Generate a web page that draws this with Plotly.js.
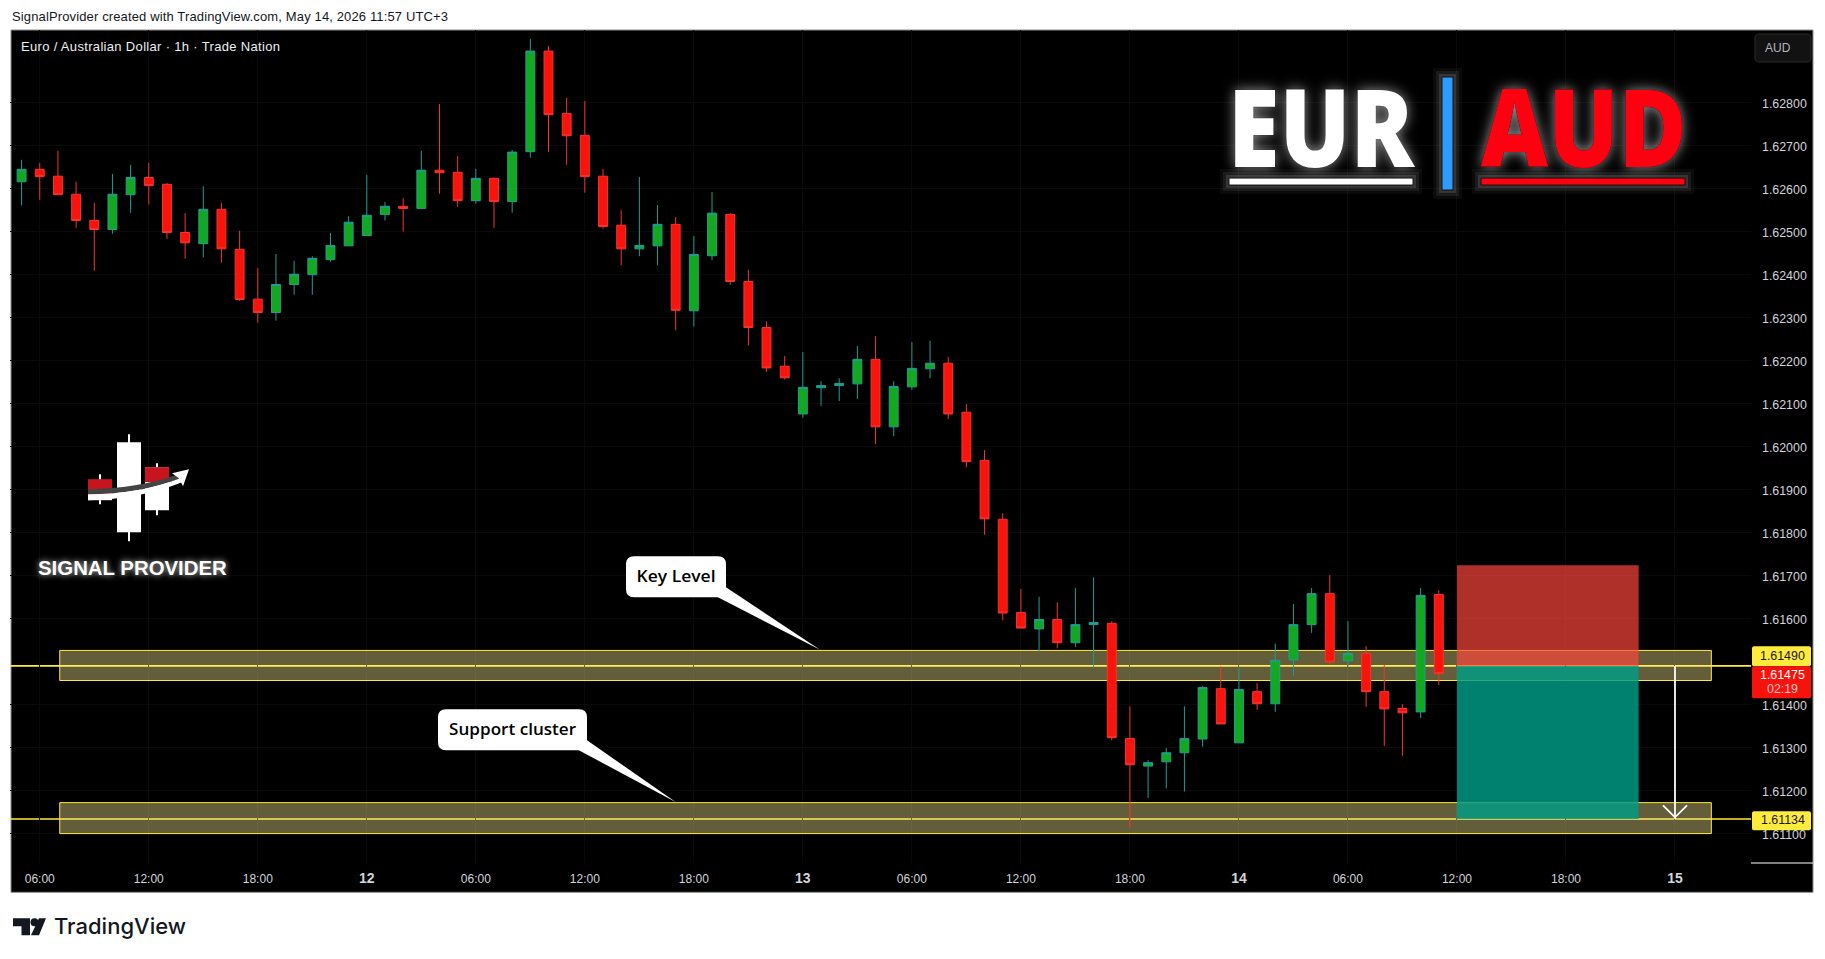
<!DOCTYPE html>
<html>
<head>
<meta charset="utf-8">
<script src="https://cdn.plot.ly/plotly-3.0.1.min.js"></script>
<style>html,body{margin:0;padding:0;background:#fff;}</style>
</head>
<body>
<div id="plot" style="width:1825px;height:959px;"></div>
<script>
// hourly bars, 11 May 05:00 to 14 May 11:00
var times = [
  "2026-05-11 05:00","2026-05-11 06:00","2026-05-11 07:00","2026-05-11 08:00","2026-05-11 09:00","2026-05-11 10:00","2026-05-11 11:00","2026-05-11 12:00","2026-05-11 13:00","2026-05-11 14:00",
  "2026-05-11 15:00","2026-05-11 16:00","2026-05-11 17:00","2026-05-11 18:00","2026-05-11 19:00","2026-05-11 20:00","2026-05-11 21:00","2026-05-11 22:00","2026-05-11 23:00",
  "2026-05-12 00:00","2026-05-12 01:00","2026-05-12 02:00","2026-05-12 03:00","2026-05-12 04:00","2026-05-12 05:00","2026-05-12 06:00","2026-05-12 07:00","2026-05-12 08:00","2026-05-12 09:00","2026-05-12 10:00","2026-05-12 11:00",
  "2026-05-12 12:00","2026-05-12 13:00","2026-05-12 14:00","2026-05-12 15:00","2026-05-12 16:00","2026-05-12 17:00","2026-05-12 18:00","2026-05-12 19:00","2026-05-12 20:00","2026-05-12 21:00","2026-05-12 22:00","2026-05-12 23:00",
  "2026-05-13 00:00","2026-05-13 01:00","2026-05-13 02:00","2026-05-13 03:00","2026-05-13 04:00","2026-05-13 05:00","2026-05-13 06:00","2026-05-13 07:00","2026-05-13 08:00","2026-05-13 09:00","2026-05-13 10:00","2026-05-13 11:00",
  "2026-05-13 12:00","2026-05-13 13:00","2026-05-13 14:00","2026-05-13 15:00","2026-05-13 16:00","2026-05-13 17:00","2026-05-13 18:00","2026-05-13 19:00","2026-05-13 20:00","2026-05-13 21:00","2026-05-13 22:00","2026-05-13 23:00",
  "2026-05-14 00:00","2026-05-14 01:00","2026-05-14 02:00","2026-05-14 03:00","2026-05-14 04:00","2026-05-14 05:00","2026-05-14 06:00","2026-05-14 07:00","2026-05-14 08:00","2026-05-14 09:00","2026-05-14 10:00","2026-05-14 11:00"
];
var open = [
  1.62616,1.62645,1.62629,1.62587,1.62526,1.62505,1.62586,1.62626,1.62610,1.62498,
  1.62472,1.62552,1.62459,1.62343,1.62312,1.62377,1.62400,1.62435,1.62467,
  1.62491,1.62540,1.62559,1.62554,1.62643,1.62638,1.62572,1.62624,1.62570,1.62686,1.62920,1.62775,
  1.62724,1.62629,1.62515,1.62460,1.62467,1.62517,1.62316,1.62444,1.62540,1.62384,1.62277,1.62187,
  1.62076,1.62137,1.62142,1.62146,1.62203,1.62046,1.62139,1.62181,1.62194,1.62080,1.61968,1.61831,
  1.61614,1.61576,1.61598,1.61544,1.61586,1.61589,1.61321,1.61257,1.61267,1.61288,1.61320,1.61437,
  1.61311,1.61430,1.61402,1.61504,1.61586,1.61658,1.61502,1.61519,1.61430,1.61391,1.61383,1.61656
];
var close = [
  1.62645,1.62628,1.62586,1.62526,1.62505,1.62587,1.62626,1.62607,1.62498,1.62474,
  1.62552,1.62460,1.62342,1.62312,1.62377,1.62401,1.62438,1.62468,1.62522,
  1.62538,1.62559,1.62554,1.62643,1.62637,1.62572,1.62624,1.62570,1.62685,1.62920,1.62772,1.62723,
  1.62628,1.62512,1.62460,1.62468,1.62517,1.62317,1.62447,1.62543,1.62384,1.62277,1.62183,1.62160,
  1.62138,1.62142,1.62147,1.62203,1.62046,1.62140,1.62182,1.62194,1.62076,1.61965,1.61832,1.61613,
  1.61578,1.61598,1.61544,1.61586,1.61591,1.61323,1.61260,1.61265,1.61288,1.61321,1.61440,1.61355,
  1.61435,1.61402,1.61503,1.61586,1.61658,1.61499,1.61519,1.61430,1.61390,1.61381,1.61654,1.61472
];
var high = [
  1.62667,1.62660,1.62688,1.62616,1.62567,1.62634,1.62655,1.62660,1.62613,1.62543,
  1.62606,1.62567,1.62502,1.62415,1.62448,1.62432,1.62443,1.62497,1.62536,
  1.62632,1.62569,1.62578,1.62688,1.62797,1.62676,1.62646,1.62626,1.62690,1.62948,1.62932,1.62811,
  1.62804,1.62646,1.62550,1.62627,1.62562,1.62534,1.62490,1.62592,1.62543,1.62411,1.62291,1.62211,
  1.62220,1.62152,1.62159,1.62234,1.62257,1.62152,1.62243,1.62246,1.62208,1.62099,1.61992,1.61845,
  1.61669,1.61651,1.61638,1.61671,1.61696,1.61594,1.61396,1.61271,1.61299,1.61396,1.61443,1.61489,
  1.61485,1.61450,1.61542,1.61634,1.61671,1.61701,1.61594,1.61536,1.61492,1.61401,1.61671,1.61666
];
var low = [
  1.62561,1.62574,1.62586,1.62509,1.62409,1.62495,1.62544,1.62563,1.62483,1.62437,
  1.62440,1.62428,1.62339,1.62288,1.62293,1.62353,1.62353,1.62430,1.62467,
  1.62491,1.62526,1.62500,1.62554,1.62588,1.62558,1.62565,1.62509,1.62544,1.62672,1.62686,1.62656,
  1.62591,1.62507,1.62422,1.62443,1.62422,1.62271,1.62279,1.62434,1.62376,1.62235,1.62174,1.62156,
  1.62067,1.62094,1.62106,1.62111,1.62006,1.62024,1.62132,1.62159,1.62064,1.61952,1.61795,1.61596,
  1.61578,1.61523,1.61531,1.61534,1.61488,1.61317,1.61113,1.61183,1.61205,1.61198,1.61302,1.61355,
  1.61311,1.61388,1.61383,1.61467,1.61567,1.61495,1.61488,1.61395,1.61304,1.61281,1.61369,1.61445
];

var priceTicks = [1.628,1.627,1.626,1.625,1.624,1.623,1.622,1.621,1.62,1.619,1.618,1.617,1.616,1.614,1.613,1.612,1.611];
var timeTicks = ["2026-05-11 06:00","2026-05-11 12:00","2026-05-11 18:00","2026-05-12 00:00","2026-05-12 06:00","2026-05-12 12:00","2026-05-12 18:00","2026-05-13 00:00","2026-05-13 06:00","2026-05-13 12:00","2026-05-13 18:00","2026-05-14 00:00","2026-05-14 06:00","2026-05-14 12:00","2026-05-14 18:00","2026-05-15 00:00"];
var dayLabel = function (d) { return '<span style="font-size:14px"><b>' + d + '</b></span>'; };
var timeLabels = ["06:00","12:00","18:00",dayLabel(12),"06:00","12:00","18:00",dayLabel(13),"06:00","12:00","18:00",dayLabel(14),"06:00","12:00","18:00",dayLabel(15)];

var keyLevel = 1.6149, supportLevel = 1.61134;
var keyZone = [1.61456, 1.61526], supportZone = [1.61100, 1.61172];
var zoneTimes = ["2026-05-11 07:06", "2026-05-15 02:00"];
var tradeTimes = ["2026-05-14 12:00", "2026-05-14 22:00"];
var stopLevel = 1.61724;
var arrowTime = "2026-05-15 00:00";

// pixel position on the page to paper coordinates, for the decorations only
var L = 10, R = 1751, T = 30, B = 862.7;
function fx(x) { return (x - L) / (R - L); }
function fy(y) { return (B - y) / (B - T); }
function pt(p) { return fx(p[0]) + "," + fy(p[1]); }
function poly(pts) { return "M" + pts.map(pt).join(" L") + " Z"; }
function roundRect(x0, y0, x1, y1, r) {
  return "M" + pt([x0 + r, y0]) + " L" + pt([x1 - r, y0]) + " Q" + pt([x1, y0]) + " " + pt([x1, y0 + r]) +
    " L" + pt([x1, y1 - r]) + " Q" + pt([x1, y1]) + " " + pt([x1 - r, y1]) +
    " L" + pt([x0 + r, y1]) + " Q" + pt([x0, y1]) + " " + pt([x0, y1 - r]) +
    " L" + pt([x0, y0 + r]) + " Q" + pt([x0, y0]) + " " + pt([x0 + r, y0]) + " Z";
}
function box(x0, y0, x1, y1, fill, line, layer) {
  return {type: "rect", xref: "paper", yref: "paper", x0: fx(x0), x1: fx(x1), y0: fy(y0), y1: fy(y1),
    fillcolor: fill, line: {width: line ? 1 : 0, color: line || fill}, layer: layer || "above"};
}
function pathShape(d, fill, layer) {
  return {type: "path", xref: "paper", yref: "paper", path: d, fillcolor: fill, line: {width: 0}, layer: layer || "above"};
}
function glowBar(x0, y0, x1, y1, fill) {
  return [
    box(x0 - 9, y0 - 9, x1 + 9, y1 + 9, "rgba(255,255,255,0.04)"),
    box(x0 - 6, y0 - 6, x1 + 6, y1 + 6, "rgba(255,255,255,0.07)"),
    box(x0 - 3, y0 - 3, x1 + 3, y1 + 3, "rgba(255,255,255,0.12)"),
    box(x0, y0, x1, y1, fill, "#111")
  ];
}
function zone(times, lvl) {
  return {type: "rect", xref: "x", yref: "y", x0: times[0], x1: times[1], y0: lvl[0], y1: lvl[1],
    fillcolor: "rgba(255,240,148,0.39)", line: {color: "#ffeb3b", width: 1}, layer: "between"};
}
function hline(v) {
  return {type: "line", xref: "paper", yref: "y", x0: 0, x1: 1, y0: v, y1: v, line: {color: "#ffeb3b", width: 1.6}, layer: "between"};
}
function tradeBox(y0, y1, fill) {
  return {type: "rect", xref: "x", yref: "y", x0: tradeTimes[0], x1: tradeTimes[1], y0: y0, y1: y1,
    fillcolor: fill, line: {width: 0}, layer: "between"};
}
function label(x, y, text, size, color, opts) {
  var o = opts || {};
  return {xref: "paper", yref: "paper", x: fx(x), y: fy(y), text: text, showarrow: false,
    xanchor: o.anchor || "center", yanchor: "middle", align: o.anchor || "center", borderpad: 0,
    font: {family: o.family || "Liberation Sans", size: size, color: color, weight: o.weight || "normal", shadow: o.shadow || "none"}};
}

var shapes = [
  // chart frame and axis panels
  box(11, 30, 1813, 892, "#000", "#8c8c8c", "below"),
  zone(zoneTimes, keyZone),
  zone(zoneTimes, supportZone),
  hline(keyLevel),
  hline(supportLevel),
  tradeBox(keyLevel, stopLevel, "rgba(252,70,58,0.69)"),
  tradeBox(supportLevel, keyLevel, "rgba(0,156,136,0.82)"),
  {type: "line", xref: "x", yref: "y", x0: arrowTime, x1: arrowTime, y0: keyLevel, y1: supportLevel, line: {color: "#fff", width: 1.8}, layer: "above"},
  // arrow head
  {type: "path", xref: "paper", yref: "paper", path: "M" + pt([1663, 805]) + " L" + pt([1675, 817]) + " L" + pt([1687, 805]), line: {color: "#fff", width: 1.8}, layer: "above"},
  // axis end mark
  {type: "line", xref: "paper", yref: "paper", x0: 1, x1: fx(1813), y0: 0, y1: 0, line: {color: "#fff", width: 1}, layer: "above"},
  // currency button
  {type: "path", xref: "paper", yref: "paper", path: roundRect(1755, 34, 1811, 62, 4), fillcolor: "#121212", line: {color: "#2a2a2a", width: 1}, layer: "above"},
  // callouts
  pathShape(roundRect(626, 556, 726, 597, 8), "#fff"),
  pathShape(poly([[716, 596], [726, 587], [820, 649.5]]), "#fff"),
  pathShape(roundRect(438, 709, 587, 750, 8), "#fff"),
  pathShape(poly([[577, 749], [587, 740], [676, 802]]), "#fff"),
  // price labels
  pathShape(roundRect(1752, 646, 1811, 666, 2), "#ffeb3b"),
  pathShape(roundRect(1752, 666, 1811, 698, 2), "#f8120c"),
  pathShape(roundRect(1752, 811, 1811, 830, 2), "#ffeb3b"),
  // signal provider logo
  {type: "line", xref: "paper", yref: "paper", x0: fx(129), x1: fx(129), y0: fy(434), y1: fy(541), line: {color: "#fff", width: 2}, layer: "above"},
  {type: "line", xref: "paper", yref: "paper", x0: fx(100), x1: fx(100), y0: fy(474), y1: fy(504), line: {color: "#fff", width: 2}, layer: "above"},
  {type: "line", xref: "paper", yref: "paper", x0: fx(157), x1: fx(157), y0: fy(463), y1: fy(515), line: {color: "#fff", width: 2}, layer: "above"},
  pathShape(poly([[88, 479], [112, 479], [112, 500], [88, 500]]), "#c8141e"),
  pathShape(poly([[88, 497], [112, 497], [112, 500], [88, 500]]), "#fff"),
  pathShape(poly([[145, 467], [169, 467], [169, 510], [145, 510]]), "#fff"),
  pathShape(poly([[145, 467], [169, 467], [169, 482], [145, 482]]), "#c8141e"),
  pathShape(poly([[117, 442], [141, 442], [141, 532], [117, 532]]), "#fff"),
  pathShape("M" + pt([88, 489]) + " Q" + pt([140, 488]) + " " + pt([178, 474]) + " L" + pt([180, 478]) + " Q" + pt([140, 494]) + " " + pt([88, 494]) + " Z", "#444"),
  pathShape("M" + pt([88, 494]) + " Q" + pt([140, 494]) + " " + pt([180, 478]) + " L" + pt([182, 482]) + " Q" + pt([140, 499]) + " " + pt([88, 500]) + " Z", "#fff"),
  pathShape(poly([[189, 469], [183, 486], [179, 478], [172, 473]]), "#fff"),
  // tradingview logo
  pathShape(poly([[13, 918], [30, 918], [30, 935], [21.5, 935], [21.5, 926], [13, 926]]), "#131722"),
  pathShape("M" + pt([30.5, 922]) + " Q" + pt([30.5, 918]) + " " + pt([34.5, 918]) + " Q" + pt([38.5, 918]) + " " + pt([38.5, 922]) + " Q" + pt([38.5, 926]) + " " + pt([34.5, 926]) + " Q" + pt([30.5, 926]) + " " + pt([30.5, 922]) + " Z", "#131722"),
  pathShape(poly([[39, 918], [46, 918], [39, 935], [31, 935]]), "#131722")
];
shapes = shapes.concat(glowBar(1229, 178, 1413, 185, "#fff"), glowBar(1481, 178, 1685, 185, "#ff0010"), glowBar(1442, 77, 1453, 190, "#2e9bff"));

var bigGlow = "0 0 1px #000, 0 0 14px rgba(255,255,255,0.6)";
var annotations = [
  label(11, 16.5, "SignalProvider created with TradingView.com, May 14, 2026 11:57 UTC+3", 13, "#131722", {anchor: "left"}),
  label(20, 46.5, "Euro / Australian Dollar · 1h · Trade Nation", 13, "#eceff4", {anchor: "left"}),
  label(1322, 124, "EUR", 109, "#fff", {family: "Open Sans", weight: 800, shadow: bigGlow}),
  label(1584, 124, "AUD", 109, "#ff0010", {family: "Open Sans", weight: 800, shadow: bigGlow}),
  label(1778, 48, "AUD", 12, "#b2b5be"),
  label(132, 568, "SIGNAL PROVIDER", 20.4, "#fff", {weight: "bold", shadow: "0 0 6px rgba(255,255,255,0.8)"}),
  label(676, 576, "Key Level", 15.5, "#000", {family: "Open Sans", weight: 600}),
  label(512, 729, "Support cluster", 15.5, "#000", {family: "Open Sans", weight: 600}),
  label(1783, 656, "1.61490", 12.4, "#131722"),
  label(1783, 675, "1.61475", 12.4, "#fff"),
  label(1783, 689, "02:19", 12.4, "#ffc4c2"),
  label(1783, 820, "1.61134", 12.4, "#131722"),
  label(120, 926, "TradingView", 22, "#131722", {family: "Inter", weight: 500})
];

// annotation index -> width of that text on the page
var textWidths = {0: 436, 1: 259, 2: 186, 3: 206, 6: 79, 7: 127};

var data = [{
  type: "candlestick",
  x: times, open: open, high: high, low: low, close: close,
  increasing: {line: {color: "#1f9e94", width: 1}, fillcolor: "#12a81f"},
  decreasing: {line: {color: "#f5352c", width: 1}, fillcolor: "#f8140c"},
  whiskerwidth: 0,
  showlegend: false,
  hoverinfo: "skip"
}];

var layout = {
  width: 1825,
  height: 959,
  margin: {l: L, r: 1825 - R, t: T, b: 959 - B},
  paper_bgcolor: "#fff",
  plot_bgcolor: "rgba(0,0,0,0)",
  showlegend: false,
  font: {family: "Liberation Sans", size: 12, color: "#d1d4dc"},
  xaxis: {
    type: "date",
    range: ["2026-05-11 04:21:43", "2026-05-15 04:11:00"],
    rangeslider: {visible: false},
    tickmode: "array", tickvals: timeTicks, ticktext: timeLabels,
    tickangle: 0, ticks: "", showline: false, zeroline: false,
    gridcolor: "#0a0a0a", gridwidth: 1,
    ticklabelstandoff: 7,
    tickfont: {color: "#d1d4dc", size: 12}
  },
  yaxis: {
    side: "right",
    range: [1.610316, 1.62969],
    tickmode: "array", tickvals: priceTicks, tickformat: ".5f",
    ticks: "", showline: false, zeroline: false,
    gridcolor: "#0a0a0a", gridwidth: 1,
    ticklabelstandoff: 10,
    ticklabelshift: 1,
    tickfont: {color: "#d1d4dc", size: 12.4}
  },
  shapes: shapes,
  annotations: annotations
};

Plotly.newPlot("plot", data, layout, {displayModeBar: false, staticPlot: true}).then(function (gd) {
  // squeeze or spread these few texts to the width they have in the picture
  var texts = gd.querySelectorAll(".annotation-text");
  Object.keys(textWidths).forEach(function (i) {
    var big = i == 2 || i == 3;
    texts[i].setAttribute("textLength", textWidths[i]);
    texts[i].setAttribute("lengthAdjust", big || i >= 6 ? "spacingAndGlyphs" : "spacing");
  });
});
</script>
</body>
</html>
